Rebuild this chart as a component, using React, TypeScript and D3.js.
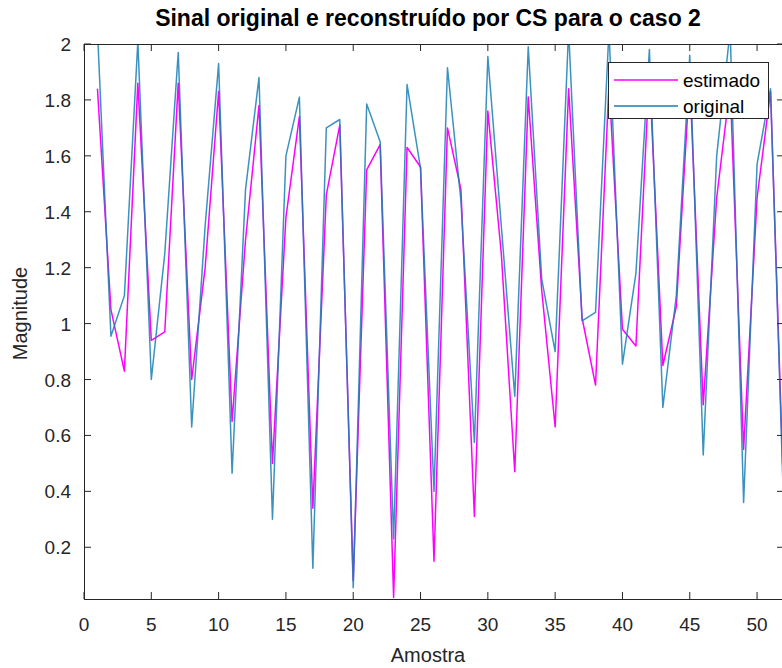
import React from "react";
import * as d3 from "d3";

// Sample indices and the two signals (estimated vs original)
const amostras: number[] = d3.range(1, 53);

const estimado: number[] = [
  1.84, 1.05, 0.83, 1.86, 0.94, 0.97, 1.86, 0.8, 1.2, 1.83,
  0.65, 1.3, 1.78, 0.5, 1.38, 1.74, 0.34, 1.46, 1.71, 0.08,
  1.55, 1.64, 0.02, 1.63, 1.56, 0.15, 1.7, 1.48, 0.31, 1.76,
  1.25, 0.47, 1.81, 1.12, 0.63, 1.84, 1.02, 0.78, 1.86, 0.98,
  0.92, 1.9, 0.85, 1.06, 1.88, 0.71, 1.45, 1.85, 0.55, 1.45,
  1.83, 0.35,
];

const original: number[] = [
  2.05, 0.955, 1.1, 2.01, 0.8, 1.25, 1.97, 0.63, 1.35, 1.93,
  0.465, 1.48, 1.88, 0.3, 1.6, 1.81, 0.125, 1.7, 1.73, 0.055,
  1.785, 1.65, 0.23, 1.855, 1.555, 0.4, 1.915, 1.44, 0.575, 1.955,
  1.35, 0.74, 1.99, 1.16, 0.9, 2.05, 1.01, 1.04, 2.05, 0.855,
  1.18, 1.98, 0.7, 1.1, 1.96, 0.53, 1.6, 2.05, 0.36, 1.57,
  1.84, 0.3,
];

const xTicks: number[] = [0, 5, 10, 15, 20, 25, 30, 35, 40, 45, 50];
const yTicks: number[] = [0.2, 0.4, 0.6, 0.8, 1, 1.2, 1.4, 1.6, 1.8, 2];

const seriesNames: string[] = ["estimado", "original"];
const seriesColors: string[] = ["#ff00ff", "#1a7fb4"];

const W = 782;
const H = 668;
const left = 84;
const right = 784;
const top = 44;
const bottom = 599;

const axisColor = "#262626";
const font = "'Liberation Sans', Arial, Helvetica, sans-serif";

export default function App() {
  const x = d3.scaleLinear().domain([0, 52]).range([left, right]);
  const y = d3.scaleLinear().domain([0.015, 2]).range([bottom, top]);

  const line = d3
    .line<number>()
    .x((_, i) => x(amostras[i]))
    .y((d) => y(d));

  const tickLen = 7;

  return (
    <svg
      width={W}
      height={H}
      style={{ position: "absolute", left: 0, top: 0, background: "#fff" }}
      fontFamily={font}
    >
      <rect x={0} y={0} width={W} height={H} fill="#fff" />
      <defs>
        <clipPath id="plotArea">
          <rect x={left} y={top} width={right - left} height={bottom - top} />
        </clipPath>
      </defs>

      {/* Signals */}
      <g clipPath="url(#plotArea)" fill="none" strokeWidth={1.5} strokeLinejoin="round">
        <path d={line(estimado) ?? ""} stroke={seriesColors[0]} />
        <path d={line(original) ?? ""} stroke={seriesColors[1]} strokeOpacity={0.85} />
      </g>

      {/* Axes box */}
      <g stroke={axisColor} strokeWidth={1} fill="none">
        <line x1={left} x2={right} y1={bottom + 0.5} y2={bottom + 0.5} />
        <line x1={left} x2={right} y1={top + 0.5} y2={top + 0.5} />
        <line x1={left + 0.5} x2={left + 0.5} y1={top} y2={bottom} />
        <line x1={right - 0.5} x2={right - 0.5} y1={top} y2={bottom} />
        {xTicks.map((t) => (
          <g key={"xt" + t}>
            <line x1={x(t)} x2={x(t)} y1={bottom} y2={bottom - tickLen} />
            <line x1={x(t)} x2={x(t)} y1={top} y2={top + tickLen} />
          </g>
        ))}
        {yTicks.map((t) => (
          <g key={"yt" + t}>
            <line x1={left} x2={left + tickLen} y1={y(t)} y2={y(t)} />
            <line x1={right} x2={right - tickLen} y1={y(t)} y2={y(t)} />
          </g>
        ))}
      </g>

      {/* Tick labels */}
      <g fill={axisColor} fontSize={19}>
        {xTicks.map((t) => (
          <text key={"xl" + t} x={x(t)} y={bottom + 32} textAnchor="middle">
            {t}
          </text>
        ))}
        {yTicks.map((t) => (
          <text key={"yl" + t} x={left - 13} y={y(t) + 7} textAnchor="end">
            {t}
          </text>
        ))}
      </g>

      {/* Axis labels */}
      <text
        x={(left + right) / 2 - 6}
        y={bottom + 63}
        textAnchor="middle"
        fontSize={20}
        fill={axisColor}
      >
        Amostra
      </text>
      <text
        transform={`translate(27, ${(top + bottom) / 2 - 8}) rotate(-90)`}
        textAnchor="middle"
        fontSize={20}
        fill={axisColor}
      >
        Magnitude
      </text>

      {/* Title */}
      <text
        x={428}
        y={26}
        textAnchor="middle"
        fontSize={23}
        fontWeight="bold"
        fill="#000"
      >
        Sinal original e reconstruído por CS para o caso 2
      </text>

      {/* Legend */}
      <g>
        <rect x={608.5} y={62.5} width={160} height={56} fill="#fff" stroke={axisColor} strokeWidth={1} />
        {seriesNames.map((name, i) => (
          <g key={name}>
            <line
              x1={614}
              x2={678}
              y1={80 + i * 26}
              y2={80 + i * 26}
              stroke={seriesColors[i]}
              strokeWidth={1.5}
            />
            <text x={683} y={80 + i * 26 + 7} fontSize={19} fill="#000">
              {name}
            </text>
          </g>
        ))}
      </g>
    </svg>
  );
}
